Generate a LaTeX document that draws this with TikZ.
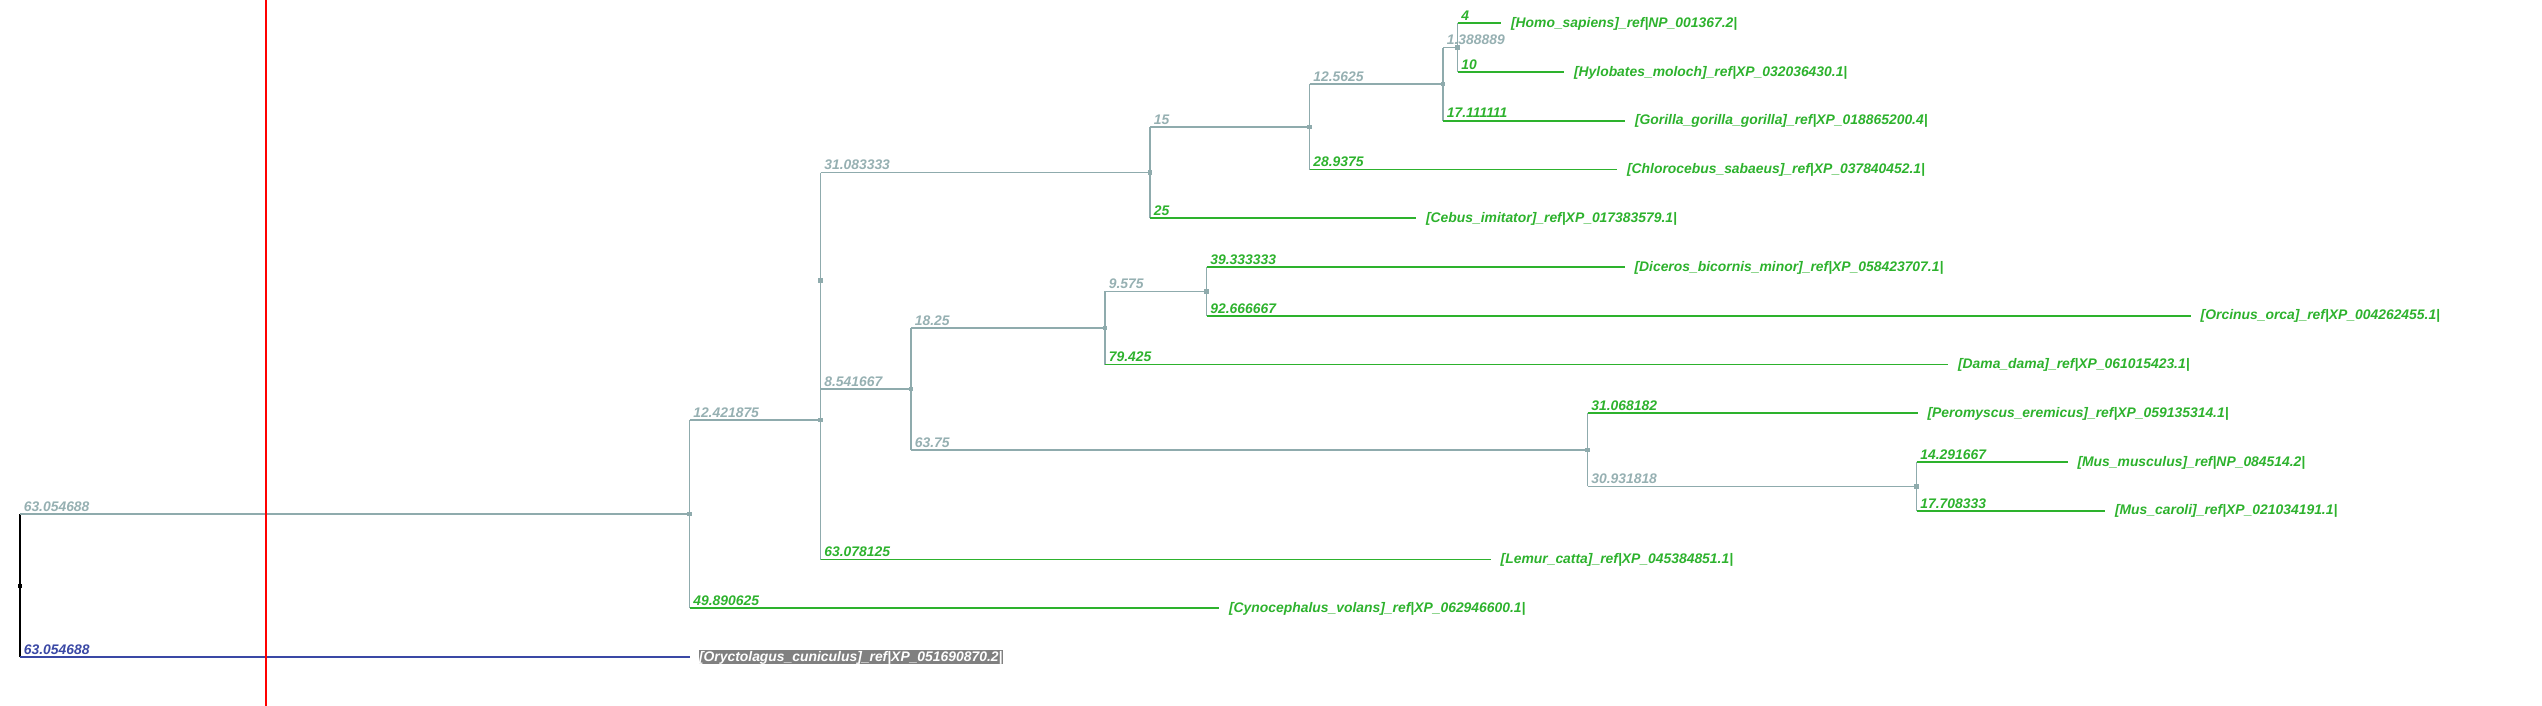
\documentclass[tikz,border=0pt]{standalone}
\usepackage{fontspec}
\setmainfont{Liberation Sans}
\definecolor{branch}{RGB}{143,171,173}
\definecolor{branchtext}{RGB}{150,176,178}
\definecolor{leafgreen}{RGB}{45,178,45}
\definecolor{outblue}{RGB}{58,72,165}
\definecolor{boxgray}{RGB}{128,128,128}
\newcommand{\treefont}{\fontsize{3.95pt}{4.8pt}\selectfont\bfseries\itshape}

\begin{document}
\begin{tikzpicture}[
	x=0.01cm, y=-0.01cm,
	font=\treefont,
	nodedot/.style={ rectangle, fill=branch, inner sep=0pt, minimum size=0.45mm },
	rootdot/.style={ rectangle, fill=black, inner sep=0pt, minimum size=0.4mm },
	branchline/.style={ branch, line width=0.45pt },
	leafedge/.style={ leafgreen, line width=0.5pt },
	leaf/.style={ leafgreen, anchor=west, inner sep=0pt, outer xsep=1mm, text height=1.1mm, text depth=0.3mm },
	outleaf/.style={ leaf, text=white, fill=boxgray, outer xsep=0.95mm },
	blen/.style={ pos=0, anchor=base west, inner sep=0pt, xshift=0.3mm, yshift=0.27mm, text=branchtext },
	llen/.style={ blen, text=leafgreen }
]
\useasboundingbox (0,0) rectangle (2542,706);

\node at (20,585.5) (root) [rootdot] {};
\node at (689.5,514.1) (a) [nodedot] {};
\node at (820.5,420.1) (b) [nodedot] {};
\node at (820.5,280.7) (bb) [nodedot] {};
\node at (1150,172.5) (c) [nodedot] {};
\node at (1309.5,126.8) (d) [nodedot] {};
\node at (1443,84.1) (e) [nodedot] {};
\node at (1457.5,47.6) (f) [nodedot] {};
\node at (911,388.8) (g) [nodedot] {};
\node at (1105,327.9) (h) [nodedot] {};
\node at (1206.5,291.3) (i) [nodedot] {};
\node at (1587.5,449.8) (j) [nodedot] {};
\node at (1916.5,486.3) (k) [nodedot] {};

\node at (1501,23.2) (homo) [leaf] {[Homo\_sapiens]\_ref\textbar NP\_001367.2\textbar};
\node at (1564,72) (hylo) [leaf] {[Hylobates\_moloch]\_ref\textbar XP\_032036430.1\textbar};
\node at (1625,120.7) (gor) [leaf] {[Gorilla\_gorilla\_gorilla]\_ref\textbar XP\_018865200.4\textbar};
\node at (1617,169.5) (chl) [leaf] {[Chlorocebus\_sabaeus]\_ref\textbar XP\_037840452.1\textbar};
\node at (1416,218.2) (ceb) [leaf] {[Cebus\_imitator]\_ref\textbar XP\_017383579.1\textbar};
\node at (1624.5,267) (dic) [leaf] {[Diceros\_bicornis\_minor]\_ref\textbar XP\_058423707.1\textbar};
\node at (2190.7,315.7) (orc) [leaf] {[Orcinus\_orca]\_ref\textbar XP\_004262455.1\textbar};
\node at (1948,364.5) (dam) [leaf] {[Dama\_dama]\_ref\textbar XP\_061015423.1\textbar};
\node at (1917.5,413.2) (per) [leaf] {[Peromyscus\_eremicus]\_ref\textbar XP\_059135314.1\textbar};
\node at (2067.5,462) (musm) [leaf] {[Mus\_musculus]\_ref\textbar NP\_084514.2\textbar};
\node at (2105,510.7) (musc) [leaf] {[Mus\_caroli]\_ref\textbar XP\_021034191.1\textbar};
\node at (1490.7,559.5) (lem) [leaf] {[Lemur\_catta]\_ref\textbar XP\_045384851.1\textbar};
\node at (1219,608.2) (cyn) [leaf] {[Cynocephalus\_volans]\_ref\textbar XP\_062946600.1\textbar};
\node at (689.5,657) (ory) [outleaf] {[Oryctolagus\_cuniculus]\_ref\textbar XP\_051690870.2\textbar};

\draw[line width=0.45pt] (a -| root) -- (ory -| root);
\draw[branchline] (a -| root) -- node[blen] {63.054688} (a.center);
\draw[outblue, line width=0.5pt] (ory -| root) -- node[blen, text=outblue] {63.054688} (ory.west);

\draw[branchline] (b -| a) -- (cyn -| a);
\draw[branchline] (b -| a) -- node[blen] {12.421875} (b.center);
\draw[leafedge] (cyn -| a) -- node[llen] {49.890625} (cyn.west);

\draw[branchline] (c -| bb) -- (lem -| b);
\draw[leafedge] (lem -| b) -- node[llen] {63.078125} (lem.west);
\draw[branchline] (c -| bb) -- node[blen] {31.083333} (c.center);
\draw[branchline] (g -| bb) -- node[blen] {8.541667} (g.center);

\draw[branchline] (d -| c) -- (ceb -| c);
\draw[branchline] (d -| c) -- node[blen] {15} (d.center);
\draw[leafedge] (ceb -| c) -- node[llen] {25} (ceb.west);
\draw[branchline] (e -| d) -- (chl -| d);
\draw[branchline] (e -| d) -- node[blen] {12.5625} (e.center);
\draw[leafedge] (chl -| d) -- node[llen] {28.9375} (chl.west);
\draw[branchline] (f -| e) -- (gor -| e);
\draw[branchline] (f -| e) -- node[blen] {1.388889} (f.center);
\draw[leafedge] (gor -| e) -- node[llen] {17.111111} (gor.west);
\draw[branchline] (homo -| f) -- (hylo -| f);
\draw[leafedge] (homo -| f) -- node[llen] {4} (homo.west);
\draw[leafedge] (hylo -| f) -- node[llen] {10} (hylo.west);

\draw[branchline] (h -| g) -- (j -| g);
\draw[branchline] (h -| g) -- node[blen] {18.25} (h.center);
\draw[branchline] (j -| g) -- node[blen] {63.75} (j.center);
\draw[branchline] (i -| h) -- (dam -| h);
\draw[branchline] (i -| h) -- node[blen] {9.575} (i.center);
\draw[leafedge] (dam -| h) -- node[llen] {79.425} (dam.west);
\draw[branchline] (dic -| i) -- (orc -| i);
\draw[leafedge] (dic -| i) -- node[llen] {39.333333} (dic.west);
\draw[leafedge] (orc -| i) -- node[llen] {92.666667} (orc.west);
\draw[branchline] (per -| j) -- (k -| j);
\draw[leafedge] (per -| j) -- node[llen] {31.068182} (per.west);
\draw[branchline] (k -| j) -- node[blen] {30.931818} (k.center);
\draw[branchline] (musm -| k) -- (musc -| k);
\draw[leafedge] (musm -| k) -- node[llen] {14.291667} (musm.west);
\draw[leafedge] (musc -| k) -- node[llen] {17.708333} (musc.west);

\coordinate (cuttop) at (266,0);
\coordinate (cutbot) at (266,706);
\draw[red, line width=0.45pt] (cuttop) -- (cutbot);

\end{tikzpicture}
\end{document}
